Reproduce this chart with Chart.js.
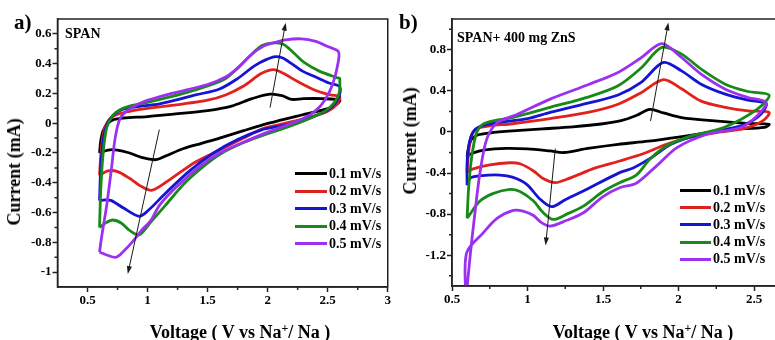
<!DOCTYPE html>
<html>
<head>
<meta charset="utf-8">
<script src="https://cdn.jsdelivr.net/npm/chart.js@4.4.1/dist/chart.umd.min.js"></script>
<style>
  html, body { margin: 0; padding: 0; background: #fff; }
  body { width: 775px; height: 340px; overflow: hidden; position: relative;
         font-family: 'Liberation Serif', 'Times New Roman', serif; font-weight: bold; color: #000; }
  canvas { position: absolute; top: 0; }
  #chartA { left: 0; }
  #chartB { left: 390px; }
  .txt { position: absolute; white-space: nowrap; line-height: 1; }
  .panel { font-size: 21px; }
  .inner { font-size: 14px; }
  .ytitle { font-size: 18px; transform: translate(-50%, -50%) rotate(-90deg); }
  .xtitle { font-size: 18px; transform: translateX(-50%); }
  .xtitle sup { font-size: 12px; vertical-align: 6px; }
  .legend { position: absolute; font-size: 14px; }
  .legend .row { display: flex; align-items: center; }
  .legend .swatch { height: 3px; margin-right: 2px; }
</style>
</head>
<body>
<canvas id="chartA" width="392" height="340"></canvas>
<canvas id="chartB" width="400" height="340"></canvas>

<div class="txt panel" style="left:14px; top:12px;">a)</div>
<div class="txt panel" style="left:399px; top:12px;">b)</div>
<div class="txt inner" style="left:65px; top:27px;">SPAN</div>
<div class="txt inner" style="left:457px; top:31px;">SPAN+ 400 mg ZnS</div>
<div class="txt ytitle" style="left:14px; top:172px;">Current (mA)</div>
<div class="txt ytitle" style="left:410px; top:141px;">Current (mA)</div>
<div class="txt xtitle" style="left:240px; top:322px;">Voltage ( V vs Na<sup>+</sup>/ Na )</div>
<div class="txt xtitle" style="left:643px; top:322px;">Voltage ( V vs Na<sup>+</sup>/ Na )</div>
<div class="legend" id="legendA" style="left:295px; top:165px;"></div>
<div class="legend" id="legendB" style="left:680px; top:182px;"></div>

<script>
'use strict';

const seriesLabels = ['0.1 mV/s', '0.2 mV/s', '0.3 mV/s', '0.4 mV/s', '0.5 mV/s'];
const seriesColors = ['#000000', '#e3211c', '#1414d2', '#178a17', '#9b30f0'];

// panel a) SPAN  -- [voltage, current] going round each loop
const a01 = [[0.6, -0.2], [0.61, -0.12], [0.63, -0.05], [0.67, 0.0], [0.72, 0.025], [0.8, 0.035], [1.0, 0.045], [1.2, 0.06], [1.5, 0.085], [1.7, 0.115], [1.87, 0.165], [2.02, 0.195], [2.12, 0.185], [2.2, 0.16], [2.3, 0.165], [2.45, 0.165], [2.6, 0.155],
  [2.58, 0.13], [2.51, 0.1], [2.29, 0.057], [2.01, 0.0], [1.8, -0.05], [1.6, -0.1], [1.45, -0.135], [1.3, -0.17], [1.15, -0.22], [1.07, -0.245], [0.95, -0.23], [0.85, -0.2], [0.75, -0.18], [0.67, -0.18], [0.6, -0.2]];
const a02 = [[0.6, -0.35], [0.61, -0.22], [0.63, -0.08], [0.66, 0.0], [0.72, 0.05], [0.85, 0.08], [1.0, 0.1], [1.3, 0.13], [1.5, 0.155], [1.65, 0.19], [1.8, 0.25], [1.95, 0.335], [2.05, 0.36], [2.13, 0.335], [2.25, 0.28], [2.4, 0.22], [2.52, 0.19], [2.6, 0.18],
  [2.58, 0.13], [2.5, 0.08], [2.35, 0.04], [2.15, 0.0], [1.95, -0.04], [1.8, -0.1], [1.6, -0.18], [1.4, -0.26], [1.2, -0.37], [1.04, -0.45], [0.95, -0.425], [0.85, -0.37], [0.75, -0.325], [0.67, -0.32], [0.6, -0.35]];
const a03 = [[0.6, -0.52], [0.61, -0.3], [0.63, -0.12], [0.66, -0.01], [0.71, 0.05], [0.78, 0.09], [0.9, 0.11], [1.1, 0.13], [1.4, 0.19], [1.6, 0.23], [1.75, 0.3], [1.9, 0.39], [2.05, 0.445], [2.12, 0.44], [2.2, 0.4], [2.29, 0.35], [2.4, 0.31], [2.51, 0.27], [2.6, 0.245],
  [2.59, 0.17], [2.52, 0.1], [2.4, 0.05], [2.25, 0.01], [2.1, -0.02], [1.95, -0.045], [1.75, -0.11], [1.55, -0.2], [1.35, -0.32], [1.15, -0.47], [1.0, -0.59], [0.93, -0.625], [0.8, -0.57], [0.7, -0.52], [0.65, -0.515], [0.6, -0.52]];
const a04 = [[0.6, -0.7], [0.61, -0.45], [0.63, -0.2], [0.66, -0.03], [0.71, 0.05], [0.77, 0.09], [0.85, 0.115], [1.0, 0.14], [1.3, 0.2], [1.5, 0.25], [1.65, 0.3], [1.75, 0.37], [1.85, 0.45], [1.95, 0.52], [2.05, 0.54], [2.13, 0.53], [2.22, 0.47], [2.3, 0.41], [2.43, 0.35], [2.58, 0.305], [2.6, 0.3],
  [2.59, 0.19], [2.51, 0.1], [2.4, 0.05], [2.29, 0.012], [2.15, -0.03], [2.0, -0.07], [1.8, -0.13], [1.6, -0.21], [1.45, -0.3], [1.3, -0.41], [1.15, -0.55], [1.03, -0.66], [0.93, -0.75], [0.85, -0.72], [0.78, -0.67], [0.71, -0.65], [0.65, -0.67], [0.6, -0.7]];
const a05 = [[0.6, -0.865], [0.62, -0.75], [0.66, -0.55], [0.7, -0.3], [0.73, -0.1], [0.77, 0.03], [0.83, 0.085], [0.97, 0.145], [1.2, 0.2], [1.5, 0.26], [1.65, 0.31], [1.75, 0.37], [1.87, 0.465], [1.97, 0.52], [2.05, 0.54], [2.15, 0.56], [2.28, 0.567], [2.4, 0.55], [2.5, 0.515], [2.59, 0.48],
  [2.58, 0.38], [2.54, 0.26], [2.48, 0.16], [2.4, 0.085], [2.29, 0.03], [2.15, -0.015], [2.0, -0.06], [1.85, -0.11], [1.6, -0.2], [1.45, -0.28], [1.25, -0.42], [1.1, -0.55], [1.03, -0.65], [0.95, -0.72], [0.87, -0.8], [0.8, -0.86], [0.74, -0.9], [0.66, -0.885], [0.6, -0.865]];

// panel b) SPAN + 400 mg ZnS
const b01 = [[0.6, -0.24], [0.61, -0.15], [0.63, -0.07], [0.67, -0.03], [0.75, -0.01], [0.9, 0.01], [1.1, 0.03], [1.3, 0.05], [1.5, 0.08], [1.62, 0.11], [1.72, 0.16], [1.81, 0.22], [1.9, 0.185], [2.02, 0.14], [2.24, 0.107], [2.46, 0.082], [2.6, 0.075],
  [2.57, 0.045], [2.35, 0.025], [2.2, -0.005], [2.0, -0.05], [1.8, -0.09], [1.6, -0.12], [1.4, -0.16], [1.24, -0.2], [1.15, -0.185], [1.0, -0.165], [0.86, -0.16], [0.72, -0.175], [0.63, -0.21], [0.6, -0.235]];
const b02 = [[0.6, -0.39], [0.61, -0.2], [0.63, -0.03], [0.67, 0.035], [0.75, 0.06], [0.9, 0.08], [1.15, 0.13], [1.4, 0.19], [1.6, 0.27], [1.75, 0.38], [1.9, 0.51], [2.02, 0.42], [2.15, 0.3], [2.31, 0.24], [2.46, 0.205], [2.6, 0.19],
  [2.56, 0.11], [2.45, 0.04], [2.28, 0.0], [2.08, -0.05], [1.92, -0.12], [1.77, -0.21], [1.61, -0.283], [1.45, -0.35], [1.37, -0.396], [1.26, -0.46], [1.186, -0.494], [1.1, -0.45], [1.04, -0.38], [0.95, -0.31], [0.884, -0.3], [0.75, -0.32], [0.63, -0.364], [0.6, -0.39]];
const b03 = [[0.6, -0.52], [0.6, -0.3], [0.615, -0.1], [0.64, 0.0], [0.68, 0.05], [0.78, 0.085], [1.0, 0.13], [1.15, 0.19], [1.4, 0.28], [1.6, 0.36], [1.75, 0.48], [1.9, 0.677], [2.02, 0.595], [2.15, 0.465], [2.31, 0.368], [2.46, 0.31], [2.58, 0.277],
  [2.55, 0.18], [2.45, 0.08], [2.3, 0.02], [2.1, -0.04], [1.95, -0.12], [1.82, -0.25], [1.7, -0.35], [1.61, -0.396], [1.37, -0.575], [1.25, -0.66], [1.16, -0.728], [1.08, -0.65], [0.995, -0.51], [0.9, -0.44], [0.818, -0.42], [0.7, -0.425], [0.62, -0.45], [0.6, -0.52]];
const b04 = [[0.6, -0.84], [0.61, -0.55], [0.63, -0.25], [0.66, -0.02], [0.7, 0.07], [0.78, 0.11], [0.9, 0.14], [1.15, 0.24], [1.4, 0.34], [1.6, 0.45], [1.75, 0.62], [1.89, 0.823], [2.02, 0.758], [2.15, 0.612], [2.31, 0.465], [2.46, 0.394], [2.6, 0.358],
  [2.52, 0.22], [2.3, 0.043], [2.08, -0.04], [1.92, -0.137], [1.81, -0.266], [1.72, -0.42], [1.61, -0.494], [1.5, -0.58], [1.37, -0.722], [1.26, -0.8], [1.17, -0.852], [1.1, -0.78], [1.04, -0.673], [0.95, -0.58], [0.884, -0.559], [0.77, -0.6], [0.685, -0.673], [0.6, -0.84]];
const b05 = [[0.595, -1.6], [0.62, -1.21], [0.652, -0.786], [0.685, -0.4], [0.73, -0.07], [0.8, 0.09], [0.93, 0.17], [1.15, 0.32], [1.4, 0.46], [1.6, 0.58], [1.75, 0.72], [1.89, 0.86], [2.02, 0.725], [2.15, 0.563], [2.31, 0.417], [2.46, 0.336], [2.58, 0.287],
  [2.52, 0.156], [2.41, 0.043], [2.19, -0.022], [1.99, -0.152], [1.855, -0.33], [1.72, -0.5], [1.61, -0.543], [1.5, -0.63], [1.37, -0.787], [1.26, -0.86], [1.15, -0.917], [1.09, -0.88], [1.04, -0.813], [0.97, -0.77], [0.906, -0.764], [0.8, -0.84], [0.707, -0.982], [0.597, -1.177], [0.59, -1.6]];

// axes
const xTicksA = [0.5, 1, 1.5, 2, 2.5, 3];
const xMinorA = [0.75, 1.25, 1.75, 2.25, 2.75];
const yTicksA = [0.6, 0.4, 0.2, 0, -0.2, -0.4, -0.6, -0.8, -1];
const yMinorA = [0.5, 0.3, 0.1, -0.1, -0.3, -0.5, -0.7, -0.9];
const xTicksB = [0.5, 1, 1.5, 2, 2.5];
const xMinorB = [0.75, 1.25, 1.75, 2.25];
const yTicksB = [0.8, 0.4, 0, -0.4, -0.8, -1.2];
const yMinorB = [1.0, 0.6, 0.2, -0.2, -0.6, -1.0, -1.4];

// trend arrows [x0, y0, x1, y1] in data units
const arrowsA = [[2.02, 0.105, 2.15, 0.675], [1.098, -0.043, 0.835, -1.013]];
const arrowsB = [[1.815, 0.107, 1.933, 1.067], [1.184, -0.162, 1.12, -1.105]];

const axisColor = '#222';
const tickFont = { family: "'Liberation Serif', serif", weight: 'bold', size: 13 };

const decorPlugin = {
  id: 'decor',
  afterDatasetsDraw(chart, args, opts) {
    const { ctx, chartArea: area, scales: { x, y } } = chart;
    ctx.save();
    ctx.strokeStyle = axisColor;
    ctx.lineWidth = 1.5;
    ctx.strokeRect(area.left, area.top, area.right - area.left, area.bottom - area.top);

    ctx.beginPath();
    opts.xMinor.forEach((v) => {
      const px = x.getPixelForValue(v);
      ctx.moveTo(px, area.bottom);
      ctx.lineTo(px, area.bottom + 3);
    });
    opts.yMinor.forEach((v) => {
      const py = y.getPixelForValue(v);
      ctx.moveTo(area.left, py);
      ctx.lineTo(area.left - 3, py);
    });
    ctx.stroke();

    ctx.strokeStyle = '#1a1a1a';
    ctx.fillStyle = '#1a1a1a';
    ctx.lineWidth = 1;
    opts.arrows.forEach(([x0, y0, x1, y1]) => {
      const sx = x.getPixelForValue(x0), sy = y.getPixelForValue(y0);
      const ex = x.getPixelForValue(x1), ey = y.getPixelForValue(y1);
      const ang = Math.atan2(ey - sy, ex - sx);
      ctx.beginPath();
      ctx.moveTo(sx, sy);
      ctx.lineTo(ex - 6 * Math.cos(ang), ey - 6 * Math.sin(ang));
      ctx.stroke();
      ctx.beginPath();
      ctx.moveTo(ex, ey);
      ctx.lineTo(ex - 8 * Math.cos(ang) + 2.6 * Math.sin(ang), ey - 8 * Math.sin(ang) - 2.6 * Math.cos(ang));
      ctx.lineTo(ex - 8 * Math.cos(ang) - 2.6 * Math.sin(ang), ey - 8 * Math.sin(ang) + 2.6 * Math.cos(ang));
      ctx.closePath();
      ctx.fill();
    });
    ctx.restore();
  }
};

function axisOptions(min, max, ticks, size, isX) {
  return {
    type: 'linear',
    min: min,
    max: max,
    afterBuildTicks: (scale) => { scale.ticks = ticks.map((v) => ({ value: v })); },
    afterFit: (scale) => { if (isX) scale.height = size; else scale.width = size; },
    ticks: { callback: (v) => String(v), font: tickFont, color: '#000', padding: isX ? 1 : 1, maxRotation: 0, autoSkip: false },
    grid: { drawOnChartArea: false, drawTicks: true, tickLength: 5, tickColor: axisColor, tickWidth: 1.5 },
    border: { display: true, color: axisColor, width: 1.5 }
  };
}

function buildChart(canvasId, series, cfg) {
  const datasets = series.map((points, i) => ({
    label: seriesLabels[i],
    data: points.map(([x, y]) => ({ x, y })),
    borderColor: seriesColors[i],
    borderWidth: 2.8,
    showLine: true,
    pointRadius: 0,
    tension: 0.3,
    order: series.length - i
  }));

  return new Chart(document.getElementById(canvasId), {
    type: 'scatter',
    data: { datasets },
    options: {
      responsive: false,
      animation: false,
      devicePixelRatio: 1,
      events: [],
      layout: { padding: cfg.padding },
      scales: {
        x: axisOptions(cfg.xMin, cfg.xMax, cfg.xTicks, cfg.xAxisHeight, true),
        y: axisOptions(cfg.yMin, cfg.yMax, cfg.yTicks, cfg.yAxisWidth, false)
      },
      plugins: {
        legend: { display: false },
        tooltip: { enabled: false },
        decor: { xMinor: cfg.xMinor, yMinor: cfg.yMinor, arrows: cfg.arrows }
      }
    },
    plugins: [decorPlugin]
  });
}

function renderLegend(id, swatchWidth, rowHeight) {
  document.getElementById(id).innerHTML = seriesLabels.map((label, i) => `
    <div class="row" style="height:${rowHeight}px">
      <span class="swatch" style="width:${swatchWidth}px; background:${seriesColors[i]}"></span>
      <span>${label}</span>
    </div>`).join('');
}

buildChart('chartA', [a01, a02, a03, a04, a05], {
  xMin: 0.25, xMax: 3, yMin: -1.1, yMax: 0.7,
  xTicks: xTicksA, yTicks: yTicksA, xMinor: xMinorA, yMinor: yMinorA,
  arrows: arrowsA,
  padding: { left: 0, top: 19, right: 4, bottom: 0 },
  yAxisWidth: 57.5, xAxisHeight: 53
});

buildChart('chartB', [b01, b02, b03, b04, b05], {
  xMin: 0.5, xMax: 2.7, yMin: -1.5, yMax: 1.1,
  xTicks: xTicksB, yTicks: yTicksB, xMinor: xMinorB, yMinor: yMinorB,
  arrows: arrowsB,
  padding: { left: 0, top: 19, right: 5.8, bottom: 0 },
  yAxisWidth: 62, xAxisHeight: 54
});

renderLegend('legendA', 32, 17.5);
renderLegend('legendB', 31, 17.2);
</script>
</body>
</html>
